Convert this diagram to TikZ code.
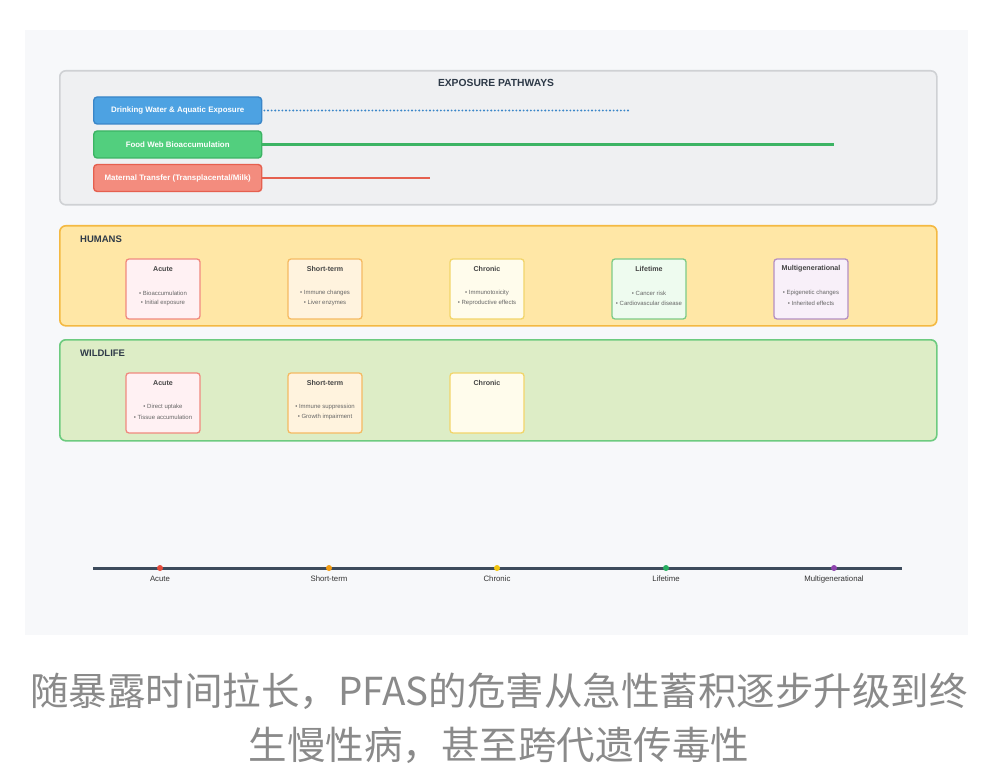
\documentclass[tikz,border=0pt]{standalone}
\usepackage{fontspec}
\setmainfont{Liberation Sans}
\newfontfamily\cjk{Noto Sans CJK SC}
\definecolor{bgpanel}{HTML}{F7F8FA}
\definecolor{exfill}{HTML}{EFF0F2}
\definecolor{exdraw}{HTML}{CFD1D4}
\definecolor{humfill}{HTML}{FFE7A6}
\definecolor{humdraw}{HTML}{F4B942}
\definecolor{wildfill}{HTML}{DDEDC6}
\definecolor{wilddraw}{HTML}{6DCB7F}
\definecolor{bluefill}{HTML}{4DA2E2}
\definecolor{bluedraw}{HTML}{3A86C8}
\definecolor{greenfill}{HTML}{52CF7E}
\definecolor{greendraw}{HTML}{3CB464}
\definecolor{redfill}{HTML}{F38C7E}
\definecolor{reddraw}{HTML}{E5604F}
\definecolor{darktext}{HTML}{2E3A48}
\definecolor{cardtext}{HTML}{444444}
\definecolor{bullettext}{HTML}{666666}
\definecolor{acfill}{HTML}{FFF1F3}
\definecolor{acdraw}{HTML}{F0897E}
\definecolor{stfill}{HTML}{FFF3DE}
\definecolor{stdraw}{HTML}{F5BA62}
\definecolor{chfill}{HTML}{FFFCEC}
\definecolor{chdraw}{HTML}{F2D56A}
\definecolor{ltfill}{HTML}{EEFBEF}
\definecolor{ltdraw}{HTML}{7DCB86}
\definecolor{mgfill}{HTML}{F8F0F9}
\definecolor{mgdraw}{HTML}{B48FC2}
\definecolor{tlcolor}{HTML}{3D4B5C}
\definecolor{tltext}{HTML}{333333}
\definecolor{dotred}{HTML}{E74C3C}
\definecolor{dotorange}{HTML}{F39C12}
\definecolor{dotyellow}{HTML}{F1C40F}
\definecolor{dotgreen}{HTML}{27AE60}
\definecolor{dotpurple}{HTML}{8E44AD}
\definecolor{captext}{HTML}{8A8A8A}
\newcommand\pcard[7]{%
  \node[card,#4] (#1) at (#2,#3+30) {};
  \node[cardtitle] (#1t) at (#2,#3+10) {#5};
  \node[bullettxt] (#1a) at (#2,#3+34) {#6};
  \node[bullettxt] (#1b) at (#2,#3+44) {#7};
}
\begin{document}
\begin{tikzpicture}[x=1pt,y=-1pt,
  panel/.style={rounded corners=6pt, line width=1.6pt, anchor=north west, inner sep=0pt},
  pathbox/.style={rounded corners=3.5pt, line width=1.4pt, anchor=west, minimum width=168pt, minimum height=27pt, inner sep=0pt, text=white, font=\fontsize{7.9}{9}\selectfont\bfseries},
  card/.style={rounded corners=3pt, line width=1.3pt, minimum width=74pt, minimum height=60pt, inner sep=0pt},
  acst/.style={fill=acfill, draw=acdraw},
  stst/.style={fill=stfill, draw=stdraw},
  chst/.style={fill=chfill, draw=chdraw},
  ltst/.style={fill=ltfill, draw=ltdraw},
  mgst/.style={fill=mgfill, draw=mgdraw},
  cardtitle/.style={font=\fontsize{7.1}{8}\selectfont\bfseries, text=cardtext, inner sep=0pt},
  bullettxt/.style={font=\fontsize{6.0}{7}\selectfont, text=bullettext, inner sep=0pt},
  heading/.style={font=\fontsize{9.5}{11}\selectfont\bfseries, text=darktext, inner sep=0pt},
  tldot/.style={circle, inner sep=0pt, minimum size=6pt},
  tllabel/.style={font=\fontsize{7.8}{9}\selectfont, text=tltext, inner sep=0pt},
  caption/.style={font=\cjk\fontsize{38.5}{44}\selectfont, text=captext, inner sep=0pt}
]
\useasboundingbox (0,0) rectangle (1000,775);
\fill[white] (0,0) rectangle (1000,775);
\fill[bgpanel] (25,30) rectangle (968,635);

% exposure pathways
\node[panel, fill=exfill, draw=exdraw, minimum width=877pt, minimum height=134pt] (expo) at (59,70) {};
\node[heading, font=\fontsize{10.3}{12}\selectfont\bfseries] (expot) at (496,83) {EXPOSURE PATHWAYS};
\node[pathbox, fill=bluefill, draw=bluedraw] (water) at (93,110.5) {Drinking Water \& Aquatic Exposure};
\node[pathbox, fill=greenfill, draw=greendraw] (food) at (93,144.5) {Food Web Bioaccumulation};
\node[pathbox, fill=redfill, draw=reddraw] (mat) at (93,178) {Maternal Transfer (Transplacental/Milk)};
\coordinate (waterend) at (629,110.5);
\coordinate (foodend) at (834,144.5);
\coordinate (matend) at (430,178);
\draw[bluedraw, line width=2.1pt, line cap=round, dash pattern=on 0pt off 3.6pt, shorten <=2pt] (water.east) -- (waterend);
\draw[greendraw, line width=2.5pt] (food.east) -- (foodend);
\draw[reddraw, line width=2.5pt] (mat.east) -- (matend);

% humans
\node[panel, fill=humfill, draw=humdraw, minimum width=877pt, minimum height=100pt] (hum) at (59,225) {};
\node[heading, anchor=west] (humt) at (80,239) {HUMANS};
\pcard{hac}{163}{259}{acst}{Acute}{• Bioaccumulation}{• Initial exposure}
\pcard{hst}{325}{259}{stst}{Short-term}{• Immune changes}{• Liver enzymes}
\pcard{hch}{487}{259}{chst}{Chronic}{• Immunotoxicity}{• Reproductive effects}
\pcard{hlt}{649}{259}{ltst}{Lifetime}{• Cancer risk}{• Cardiovascular disease}
\pcard{hmg}{811}{259}{mgst}{Multigenerational}{• Epigenetic changes}{• Inherited effects}

% wildlife
\node[panel, fill=wildfill, draw=wilddraw, minimum width=877pt, minimum height=101pt] (wild) at (59,339) {};
\node[heading, anchor=west] (wildt) at (80,353) {WILDLIFE};
\pcard{wac}{163}{373}{acst}{Acute}{• Direct uptake}{• Tissue accumulation}
\pcard{wst}{325}{373}{stst}{Short-term}{• Immune suppression}{• Growth impairment}
\node[card,chst] (wch) at (487,403) {};
\node[cardtitle] (wcht) at (487,383) {Chronic};

% timeline
\coordinate (tlstart) at (93,568);
\coordinate (tlend) at (902,568);
\draw[tlcolor, line width=3pt] (tlstart) -- (tlend);
\node[tldot, fill=dotred] (d1) at (160,568) {};
\node[tldot, fill=dotorange] (d2) at (329,568) {};
\node[tldot, fill=dotyellow] (d3) at (497,568) {};
\node[tldot, fill=dotgreen] (d4) at (666,568) {};
\node[tldot, fill=dotpurple] (d5) at (834,568) {};
\node[tllabel] (l1) at (160,579) {Acute};
\node[tllabel] (l2) at (329,579) {Short-term};
\node[tllabel] (l3) at (497,579) {Chronic};
\node[tllabel] (l4) at (666,579) {Lifetime};
\node[tllabel] (l5) at (834,579) {Multigenerational};

% caption
\node[caption] (cap1) at (499,691) {随暴露时间拉长，PFAS的危害从急性蓄积逐步升级到终};
\node[caption] (cap2) at (499,745) {生慢性病，甚至跨代遗传毒性};
\end{tikzpicture}
\end{document}
